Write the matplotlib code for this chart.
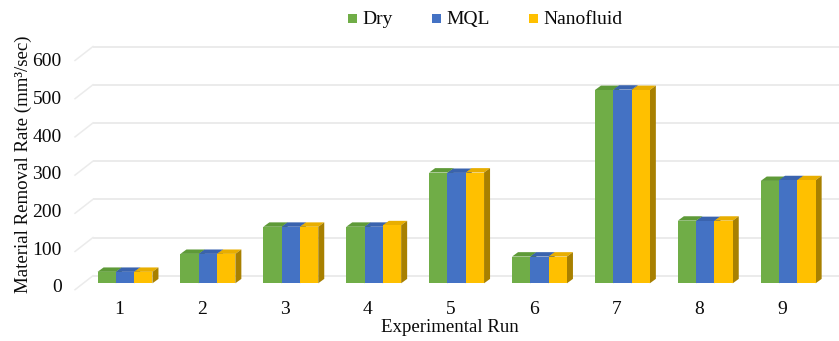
import matplotlib
matplotlib.use("Agg")
import matplotlib.pyplot as plt
from matplotlib.patches import Polygon, Rectangle
import numpy as np

# ---- data ----
runs = ["1", "2", "3", "4", "5", "6", "7", "8", "9"]
series_names = ["Dry", "MQL", "Nanofluid"]
dry = [30, 77, 148, 148, 290, 70, 506, 164, 268]
mql = [30, 77, 148, 148, 289, 70, 507, 163, 270]
nano = [30, 77, 148, 152, 290, 70, 506, 164, 270]
yticks = [0, 100, 200, 300, 400, 500, 600]

# ---- style ----
front_cols = ["#70AD47", "#4472C4", "#FFC000"]
top_cols = ["#5E9A38", "#3A63AE", "#E8AE00"]
side_cols = ["#4F7F31", "#30528F", "#A88000"]
grid_col = "#EBEBEB"
font = "Liberation Serif"
fs = 14
fs_lab = 13.6
tcol = "#0A0A0A"

W, H = 839, 341
fig = plt.figure(figsize=(W / 100, H / 100), dpi=100)
ax_left, ax_right, ax_top, ax_bot = 70, 839, 40, 300
ax = fig.add_axes([ax_left / W, (H - ax_bot) / H, (ax_right - ax_left) / W, (ax_bot - ax_top) / H])
px_per_cat = 82.9
cat0_px = 125
px_per_val = 0.382
zero_px = 283.3
ax.set_xlim(1 + (ax_left - cat0_px) / px_per_cat, 1 + (ax_right - cat0_px) / px_per_cat)
ax.set_ylim((zero_px - ax_bot) / px_per_val, (zero_px - ax_top) / px_per_val)
for s in ax.spines.values():
    s.set_visible(False)

dx = 6 / px_per_cat
dy = 4.4 / px_per_val
back_dy = 7.6 / px_per_val
x_back0 = 1 + (93 - cat0_px) / px_per_cat
x_diag0 = 1 + (75 - cat0_px) / px_per_cat
diag_drop = 14 / px_per_val
xmax = ax.get_xlim()[1]
for v in yticks:
    yb = v + back_dy
    ax.plot([x_back0, xmax], [yb, yb], color=grid_col, lw=1.4, zorder=1, solid_capstyle="butt")
    ax.plot([x_diag0, x_back0], [yb - diag_drop, yb], color=grid_col, lw=1.1, zorder=1)

x = np.arange(1, len(runs) + 1)
bw = 18.3 / px_per_cat
vals = [dry, mql, nano]
for k, (vv, fc, tc, sc) in enumerate(zip(vals, front_cols, top_cols, side_cols)):
    xs = x + (k - 1) * bw
    z = 3 + 2 * k
    bars = ax.bar(xs, vv, width=bw, color=fc, linewidth=0, zorder=z + 1)
    for b in bars:
        x0 = b.get_x()
        x1 = x0 + b.get_width()
        h = b.get_height()
        top = Polygon([[x0, h], [x1, h], [x1 + dx, h + dy], [x0 + dx, h + dy]],
                      closed=True, facecolor=tc, edgecolor="none", zorder=z)
        side = Polygon([[x1, 0], [x1 + dx, dy], [x1 + dx, h + dy], [x1, h]],
                       closed=True, facecolor=sc, edgecolor="none", zorder=z)
        ax.add_patch(top)
        ax.add_patch(side)

ax.set_xticks(x - 6 / px_per_cat, runs)
ax.set_yticks([-7 + 0.986 * v for v in yticks], [str(v) for v in yticks])
ax.tick_params(axis="both", length=0, labelsize=fs, colors=tcol)
ax.tick_params(axis="x", pad=1)
ax.tick_params(axis="y", pad=6)
for lab in ax.get_xticklabels() + ax.get_yticklabels():
    lab.set_fontfamily(font)

fig.text(450 / W, 1 - 328 / H, "Experimental Run", ha="center", va="center",
         fontsize=fs_lab, family=font, color=tcol)
fig.text(23 / W, 1 - 164 / H, "Material Removal Rate (mm³/sec)", ha="center", va="center",
         rotation=90, fontsize=fs_lab, family=font, color=tcol)

leg_sq = [348, 432, 529]
leg_tx = [362, 446, 543]
for name, c, sx, tx in zip(series_names, front_cols, leg_sq, leg_tx):
    fig.add_artist(Rectangle((sx / W, 1 - 23 / H), 9 / W, 9 / H, transform=fig.transFigure,
                             facecolor=c, edgecolor="none"))
    fig.text(tx / W, 1 - 24 / H, name, ha="left", va="baseline", fontsize=fs, family=font, color=tcol)

fig.savefig("out.png", dpi=100)
